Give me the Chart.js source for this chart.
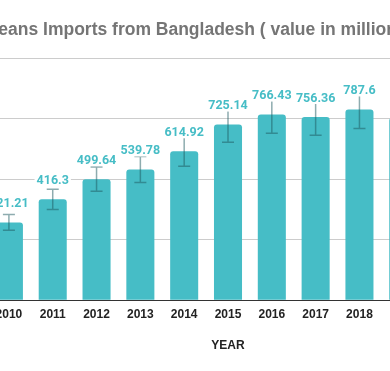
<!DOCTYPE html>
<html lang="en">
<head>
    <meta charset="UTF-8">
    <title>Jeans Imports from Bangladesh</title>
    <style>
        body {
            margin: 0;
            padding: 0;
            background-color: #fff;
        }
        .frame {
            position: relative;
            width: 390px;
            height: 371px;
            overflow: hidden;
        }
        #importsChart {
            position: absolute;
            left: -60px;
            top: 0;
        }
    </style>
    <script src="https://cdn.jsdelivr.net/npm/chart.js"></script>
</head>
<body>

<div class="frame">
    <canvas id="importsChart" width="566" height="371"></canvas>
</div>

<script>
    // Data (2020 is off screen, value unknown)
    const years = ['2010', '2011', '2012', '2013', '2014', '2015', '2016', '2017', '2018', '2019', '2020'];
    const importValues = [321.21, 416.3, 499.64, 539.78, 614.92, 725.14, 766.43, 756.36, 787.6, 753, null];
    const errorValues = [32.12, 41.63, 49.96, 53.98, 61.49, 72.51, 76.64, 75.64, 78.76, 75.3, null];
    const yTicks = [0, 250, 500, 750, 1000];

    const teal = '#46bdc6';

    // error bars + value labels on top of each bar
    const barExtras = {
        id: 'barExtras',
        afterDatasetsDraw(chart) {
            const ctx = chart.ctx;
            const meta = chart.getDatasetMeta(0);
            const y = chart.scales.y;
            ctx.save();
            meta.data.forEach((bar, i) => {
                const v = importValues[i];
                if (v == null) return;
                const err = errorValues[i];
                const yHi = y.getPixelForValue(v + err);
                const yLo = y.getPixelForValue(v - err);
                ctx.strokeStyle = 'rgba(30, 90, 95, 0.5)';
                ctx.lineWidth = 1.5;
                ctx.beginPath();
                ctx.moveTo(bar.x, yHi);
                ctx.lineTo(bar.x, yLo);
                ctx.moveTo(bar.x - 6, yHi);
                ctx.lineTo(bar.x + 6, yHi);
                ctx.moveTo(bar.x - 6, yLo);
                ctx.lineTo(bar.x + 6, yLo);
                ctx.stroke();
            });
            ctx.font = 'bold 12.5px Roboto';
            ctx.textAlign = 'center';
            ctx.textBaseline = 'middle';
            meta.data.forEach((bar, i) => {
                const v = importValues[i];
                if (v == null) return;
                const text = String(v);
                const cy = bar.y - 19;
                const w = ctx.measureText(text).width + 4;
                ctx.fillStyle = '#fff';
                ctx.fillRect(bar.x - w / 2, cy - 6, w, 12);
                ctx.fillStyle = teal;
                ctx.fillText(text, bar.x, cy + 0.5);
            });
            ctx.restore();
        }
    };

    const ctx = document.getElementById('importsChart').getContext('2d');
    const importsChart = new Chart(ctx, {
        type: 'bar',
        data: {
            labels: years,
            datasets: [{
                label: 'Imports',
                data: importValues,
                backgroundColor: teal,
                borderRadius: 3,
                borderSkipped: 'bottom',
                categoryPercentage: 1,
                barPercentage: 0.64
            }]
        },
        options: {
            responsive: false,
            animation: false,
            devicePixelRatio: 1,
            layout: { padding: { left: 29, right: 37, top: 0, bottom: 0 } },
            plugins: {
                legend: { display: false },
                tooltip: { enabled: false },
                title: {
                    display: true,
                    text: 'Jeans Imports from Bangladesh ( value in million USD )',
                    color: '#757575',
                    font: { family: 'Arial', size: 17.5, weight: 'bold' },
                    padding: { top: 20, bottom: 17 }
                }
            },
            scales: {
                x: {
                    grid: { display: false, drawTicks: false },
                    border: { color: '#333', width: 1 },
                    ticks: {
                        color: '#222',
                        font: { family: 'Arial', size: 12, weight: 'bold' },
                        padding: 7
                    },
                    title: {
                        display: true,
                        text: 'YEAR',
                        color: '#222',
                        font: { family: 'Arial', size: 12, weight: 'bold' },
                        padding: { top: 10, bottom: 18 }
                    }
                },
                y: {
                    min: yTicks[0],
                    max: yTicks[yTicks.length - 1],
                    afterBuildTicks: axis => { axis.ticks = yTicks.map(v => ({ value: v })); },
                    // the y labels sit off screen; keep their room so the title stays put
                    afterFit: axis => { axis.width = 18; },
                    grid: { color: '#cccccc', drawTicks: false },
                    border: { display: false },
                    ticks: { display: false }
                }
            }
        },
        plugins: [barExtras]
    });
</script>

</body>
</html>
